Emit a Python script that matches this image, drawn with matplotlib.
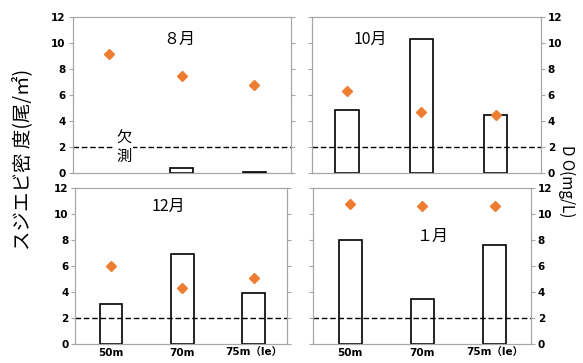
import numpy as np
import matplotlib
matplotlib.use('Agg')
import matplotlib.pyplot as plt

plt.rcParams['font.family'] = ['Noto Sans CJK JP', 'DejaVu Sans']

# stations and months
stations = ['50m', '70m', '75m（le）']
months = ['８月', '10月', '12月', '１月']

# shrimp density (left axis), NaN = not measured
density_aug = [np.nan, 0.4, 0.08]
density_oct = [4.85, 10.3, 4.5]
density_dec = [3.05, 6.95, 3.95]
density_jan = [8.05, 3.45, 7.65]

# dissolved oxygen (right axis)
do_aug = [9.2, 7.45, 6.8]
do_oct = [6.3, 4.7, 4.45]
do_dec = [6.05, 4.3, 5.08]
do_jan = [10.8, 10.6, 10.65]

do_limit = 2

densities = [density_aug, density_oct, density_dec, density_jan]
dos = [do_aug, do_oct, do_dec, do_jan]

# axes rectangles (fig fraction) and month label spots (axes fraction)
rects = [[0.1247, 0.5226, 0.374, 0.4298],
         [0.5347, 0.5226, 0.3928, 0.4298],
         [0.1292, 0.0523, 0.3636, 0.4289],
         [0.5374, 0.0523, 0.3729, 0.4289]]
title_pos = [(0.49, 0.86), (0.255, 0.86), (0.44, 0.886), (0.545, 0.694)]
xlims = [(-0.5, 2.5), (-0.48, 2.61), (-0.5, 2.47), (-0.51, 2.5)]

spine_col = '#a6a6a6'
orange = '#ED7D31'
tickfont = dict(family=['DejaVu Sans', 'Noto Sans CJK JP'], weight='bold', size=7.5)

fig = plt.figure(figsize=(5.83, 3.63), dpi=100)
x = np.arange(len(stations))

for i in range(4):
    ax = fig.add_axes(rects[i])
    ax2 = ax.twinx()
    ax.bar(x, densities[i], width=0.32, facecolor='white', edgecolor='black',
           linewidth=1.2, zorder=2)
    ax.axhline(do_limit, color='black', linestyle=(0, (4, 2)), linewidth=1.0, zorder=3)
    ax2.plot(x, dos[i], linestyle='none', marker='D', markersize=5.6,
             color=orange, zorder=4)
    for a in (ax, ax2):
        a.set_ylim(0, 12)
        a.set_yticks(np.arange(0, 13, 2))
        a.set_xlim(*xlims[i])
        for s in a.spines.values():
            s.set_color(spine_col)
            s.set_linewidth(0.8)
        a.tick_params(axis='y', length=3, color=spine_col, pad=2)
        a.tick_params(axis='x', length=0, pad=3)
    ax.set_zorder(ax2.get_zorder() - 1)
    ax2.patch.set_visible(False)

    ax.set_xticks(x)
    if i >= 2:
        ax.set_xticklabels(stations, fontdict=tickfont)
    else:
        ax.set_xticklabels([])
    if i % 2 == 0:
        ax.set_yticklabels([str(v) for v in range(0, 13, 2)], fontdict=tickfont)
        ax2.set_yticklabels([])
    else:
        ax.set_yticklabels([])
        ax2.set_yticklabels([str(v) for v in range(0, 13, 2)], fontdict=tickfont)

    ax.text(title_pos[i][0], title_pos[i][1], months[i], transform=ax.transAxes,
            ha='center', va='center', fontsize=11.5)

    if i == 0:
        ax.text(0.2, do_limit, '欠\n測', ha='center', va='center', fontsize=11,
                linespacing=1.05, zorder=5,
                bbox=dict(facecolor='white', edgecolor='none', pad=1))

fig.text(0.038, 0.56, 'スジエビ密 度(尾/㎡)', rotation=90, ha='center', va='center',
         fontsize=14)
fig.text(0.972, 0.5, 'D O(mg/L)', rotation=-90, ha='center', va='center',
         fontsize=11)

fig.savefig('out.png', dpi=100)
